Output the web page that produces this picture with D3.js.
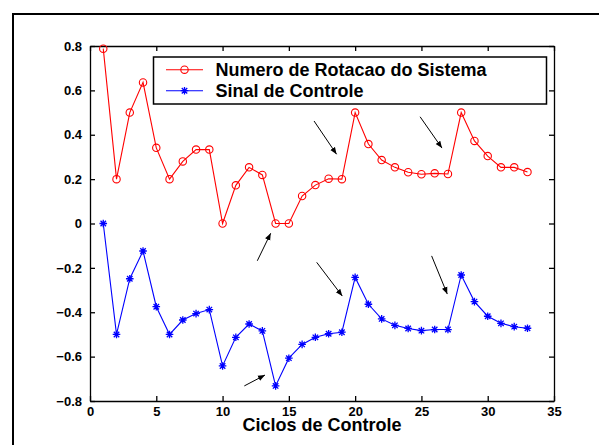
<!DOCTYPE html>
<html><head><meta charset="utf-8">
<script src="https://cdn.jsdelivr.net/npm/d3@7"></script>
<style>body{margin:0;background:#fff}svg{display:block}text{font-family:"Liberation Sans",Arial,sans-serif;font-weight:bold}</style>
</head><body>
<svg id="c" width="599" height="445"></svg>
<script>
const cycles = d3.range(1, 34);
const rotacao = [0.788,0.2,0.5,0.636,0.341,0.2,0.28,0.333,0.333,0,0.172,0.253,0.219,0,0,0.124,0.173,0.202,0.2,0.5,0.358,0.286,0.253,0.231,0.222,0.226,0.223,0.5,0.372,0.304,0.253,0.253,0.232];
const sinal = [0,-0.5,-0.249,-0.124,-0.375,-0.5,-0.435,-0.406,-0.388,-0.642,-0.513,-0.453,-0.484,-0.732,-0.607,-0.545,-0.513,-0.497,-0.49,-0.243,-0.364,-0.43,-0.459,-0.473,-0.483,-0.478,-0.478,-0.232,-0.352,-0.418,-0.45,-0.465,-0.472];
const xTicks = [0,5,10,15,20,25,30,35];
const yTicks = [-0.8,-0.6,-0.4,-0.2,0,0.2,0.4,0.6,0.8];
const seriesNames = ["Numero de Rotacao do Sistema","Sinal de Controle"];
const xLabel = "Ciclos de Controle";
// annotation arrows [x0,y0,x1,y1] in data units
const arrows = [
  [16.9,0.462,18.6,0.312],
  [24.9,0.481,26.55,0.340],
  [12.62,-0.168,13.63,-0.044],
  [11.64,-0.732,13.2,-0.683],
  [17.1,-0.175,19.03,-0.327],
  [25.77,-0.146,26.95,-0.318]
];

const svg = d3.select("#c");
const L=90,R=554,T=46,B=401;
const x = d3.scaleLinear().domain([0,35]).range([L,R]);
const y = d3.scaleLinear().domain([-0.8,0.8]).range([B,T]);

// outer frame
svg.append("path").attr("d",`M13,446 L13,14 L600,14`).attr("fill","none").attr("stroke","#000").attr("stroke-width",2);

const fmt = d => d===0 ? "0" : d3.format(".1f")(d);
const tl = 5;
svg.append("g").attr("transform",`translate(0,${B})`).call(d3.axisBottom(x).tickValues(xTicks).tickSizeInner(-tl).tickSizeOuter(0).tickPadding(6).tickFormat(d3.format("d")));
svg.append("g").attr("transform",`translate(0,${T})`).call(d3.axisTop(x).tickValues(xTicks).tickSizeInner(-tl).tickSizeOuter(0).tickFormat(""));
svg.append("g").attr("transform",`translate(${L},0)`).call(d3.axisLeft(y).tickValues(yTicks).tickSizeInner(-tl).tickSizeOuter(0).tickPadding(8).tickFormat(fmt));
svg.append("g").attr("transform",`translate(${R},0)`).call(d3.axisRight(y).tickValues(yTicks).tickSizeInner(-tl).tickSizeOuter(0).tickFormat(""));
svg.selectAll(".domain").attr("stroke","#000").attr("stroke-width",1.3);
svg.selectAll(".tick line").attr("stroke","#000").attr("stroke-width",1.3);
svg.selectAll(".tick text").attr("fill","#000").style("font-size","13px").style("font-weight","bold").style("font-family","'Liberation Sans',Arial,sans-serif");

const line = d3.line().x((d,i)=>x(cycles[i])).y(d=>y(d));
svg.append("path").datum(rotacao).attr("d",line).attr("fill","none").attr("stroke","#f00").attr("stroke-width",1.1);
svg.append("path").datum(sinal).attr("d",line).attr("fill","none").attr("stroke","#00f").attr("stroke-width",1.1);

svg.append("g").selectAll("circle").data(rotacao).join("circle")
  .attr("cx",(d,i)=>x(cycles[i])).attr("cy",d=>y(d)).attr("r",3.7)
  .attr("fill","none").attr("stroke","#f00").attr("stroke-width",1.1);

const s=3.8, sd=s*0.72;
const star = `M${-s},0L${s},0M0,${-s}L0,${s}M${-sd},${-sd}L${sd},${sd}M${-sd},${sd}L${sd},${-sd}`;
svg.append("g").selectAll("path").data(sinal).join("path")
  .attr("transform",(d,i)=>`translate(${x(cycles[i])},${y(d)})`).attr("d",star)
  .attr("fill","none").attr("stroke","#00f").attr("stroke-width",1.3);

// arrows
svg.append("defs").append("marker").attr("id","ah").attr("viewBox","0 0 10 10").attr("refX",10).attr("refY",5)
  .attr("markerWidth",7).attr("markerHeight",7).attr("markerUnits","userSpaceOnUse").attr("orient","auto")
  .append("path").attr("d","M0,1L10,5L0,9Z").attr("fill","#000");
svg.append("g").selectAll("line").data(arrows).join("line")
  .attr("x1",d=>x(d[0])).attr("y1",d=>y(d[1])).attr("x2",d=>x(d[2])).attr("y2",d=>y(d[3]))
  .attr("stroke","#000").attr("stroke-width",1).attr("marker-end","url(#ah)");

// legend
const lg = svg.append("g");
lg.append("rect").attr("x",153.5).attr("y",57).attr("width",393).attr("height",47).attr("fill","#fff").attr("stroke","#000").attr("stroke-width",1.5);
const rows=[69.7,90.7];
lg.append("line").attr("x1",166).attr("x2",203).attr("y1",rows[0]).attr("y2",rows[0]).attr("stroke","#f00").attr("stroke-width",1.1);
lg.append("circle").attr("cx",184.5).attr("cy",rows[0]).attr("r",3.7).attr("fill","none").attr("stroke","#f00").attr("stroke-width",1.1);
lg.append("line").attr("x1",166).attr("x2",203).attr("y1",rows[1]).attr("y2",rows[1]).attr("stroke","#00f").attr("stroke-width",1.1);
lg.append("path").attr("transform",`translate(184.5,${rows[1]})`).attr("d",star).attr("fill","none").attr("stroke","#00f").attr("stroke-width",1.3);
lg.selectAll("text").data(seriesNames).join("text").attr("x",215.5).attr("y",(d,i)=>rows[i]+6.3)
  .style("font-size","18px").attr("fill","#000").text(d=>d);

svg.append("text").attr("x",(L+R)/2).attr("y",431).attr("text-anchor","middle").style("font-size","18px").attr("fill","#000").text(xLabel);
</script>
</body></html>
